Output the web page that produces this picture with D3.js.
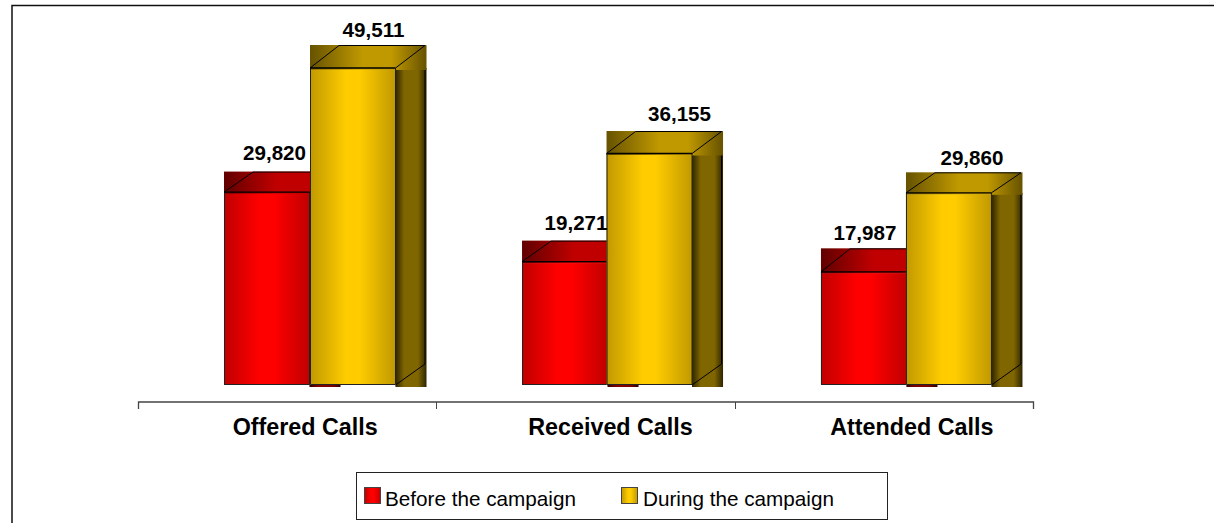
<!DOCTYPE html>
<html><head><meta charset="utf-8">
<script src="https://cdn.jsdelivr.net/npm/d3@7"></script>
<style>html,body{margin:0;padding:0;background:#fff;overflow:hidden}svg{display:block}text{font-family:"Liberation Sans",Arial,sans-serif;fill:#000}</style>
</head><body>
<svg id="c" width="1214" height="523"></svg>
<script>
const categories = ["Offered Calls", "Received Calls", "Attended Calls"];
const seriesNames = ["Before the campaign", "During the campaign"];
const before = [29820, 19271, 17987];
const during = [49511, 36155, 29860];
const svg = d3.select("#c");
const defs = svg.append("defs");
function grad(id, stops){
  const g = defs.append("linearGradient").attr("id", id).attr("x1",0).attr("x2",1).attr("y1",0).attr("y2",0);
  stops.forEach(([o,c])=>g.append("stop").attr("offset",o).attr("stop-color",c));
}
const shades = {
  0:{front:"#c00000,#ff0000,#c00000", top:"#600000,#c00000,#900000", side:"#300000,#800000,#300000"},
  1:{front:"#c09900,#ffcc00,#c09900", top:"#665200,#c09900,#665200", side:"#2e2500,#806600,#2e2500"}
};
Object.entries(shades).forEach(([k,s])=>{
  const f=s.front.split(","),t=s.top.split(","),d=s.side.split(",");
  grad("f"+k,[[0,f[0]],[.42,f[1]],[.58,f[1]],[1,f[2]]]);
  grad("t"+k,[[0,t[0]],[.45,t[1]],[.7,t[1]],[1,t[2]]]);
  grad("s"+k,[[0,d[0]],[.28,d[1]],[.72,d[1]],[1,d[2]]]);
});
const x0 = d3.scaleBand().domain(categories).range([138,1033]);
const x1 = d3.scaleBand().domain([0,1]).range([86,257]);
const y = d3.scaleLinear().domain([0,49511]).range([385,68]);
const depthX = 31;
// pixel-rounding nudges seen in the picture
const barDX = [[0,0.5],[-0.3,-1.3],[0.3,-0.2]];
const topDY = [[-2,0],[0,0],[2,-1]];
const depthY = [[20.5,23],[21,22.5],[23.5,20.5]];

svg.append("path").attr("d","M12,523V5.5H1214").attr("fill","none").attr("stroke","#111").attr("stroke-width",1.5);

categories.forEach((c,i)=>{
  [before[i],during[i]].forEach((v,k)=>{
    const bx = x0(c)+x1(k)+barDX[i][k], w = x1.bandwidth(), ty = y(v)+topDY[i][k], by = y(0), dy = depthY[i][k];
    const g = svg.append("g");
    g.append("rect").attr("x",bx+w).attr("y",ty).attr("width",depthX).attr("height",by-ty+2).attr("fill",`url(#s${k})`);
    g.append("rect").attr("x",bx).attr("y",ty-dy).attr("width",w+depthX).attr("height",dy+2).attr("fill",`url(#t${k})`);
    g.append("path").attr("d",`M${bx},${ty}L${bx+depthX-2},${ty-dy+.5}H${bx+w+depthX-1.5}L${bx+w},${ty}M${bx+w},${by}L${bx+w+depthX-1.5},${by-21}V${ty+2}`)
      .attr("fill","none").attr("stroke","#000");
    g.append("rect").attr("x",bx).attr("y",ty+1.5).attr("width",w).attr("height",by-ty-1.5).attr("fill",`url(#f${k})`);
    g.append("path").attr("d",`M${bx+.5},${ty}V${by-.5}H${bx+w}V${ty}`).attr("fill","none").attr("stroke","#222");
    g.append("path").attr("d",`M${bx},${ty}H${bx+w}`).attr("fill","none").attr("stroke","#000").attr("stroke-width",1.3);
  });
});
// label placement nudges, measured from the bar's left edge and top
const labelDX = [[50.5,63.5],[54,73],[44,66]];
const labelDY = [[34,31],[31.6,32.5],[29.8,28.8]];
categories.forEach((c,i)=>{
  [before[i],during[i]].forEach((v,k)=>{
    const bx = x0(c)+x1(k)+barDX[i][k];
    svg.append("text").attr("x",bx+labelDX[i][k]).attr("y",y(v)-labelDY[i][k]).attr("text-anchor","middle")
      .attr("font-size",20.6).attr("font-weight","bold").text(d3.format(",")(v));
  });
});

const ax = svg.append("g").attr("transform","translate(0,402)");
ax.append("path").attr("d","M138.5,7V0H1033.5V7").attr("fill","none").attr("stroke","#444").attr("stroke-width",1.3);
categories.slice(1).forEach(c=>ax.append("line").attr("x1",Math.round(x0(c))+.5).attr("x2",Math.round(x0(c))+.5).attr("y1",0).attr("y2",7).attr("stroke","#444"));
const catShift = [18,25,28];
categories.forEach((c,i)=>svg.append("text").attr("x",x0(c)+x0.bandwidth()/2+catShift[i]).attr("y",435).attr("text-anchor","middle").attr("font-size",23.3).attr("font-weight","bold").text(c));

svg.append("rect").attr("x",356.5).attr("y",472.5).attr("width",531).attr("height",47).attr("fill","#fff").attr("stroke","#222");
const lx = [364,621];
const tx = [385,643];
seriesNames.forEach((n,k)=>{
  svg.append("rect").attr("x",lx[k]+.5).attr("y",487.5).attr("width",16).attr("height",16).attr("fill",`url(#f${k})`).attr("stroke","#444");
  svg.append("text").attr("x",tx[k]).attr("y",506).attr("font-size",20.7).text(n);
});
</script>
</body></html>
